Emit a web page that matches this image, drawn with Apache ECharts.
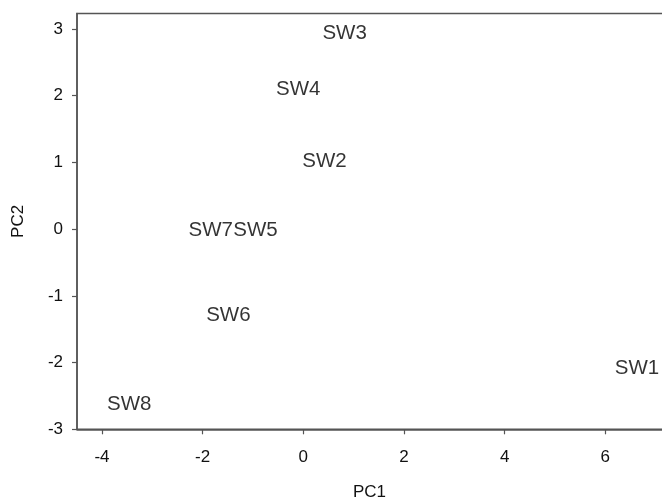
<!DOCTYPE html>
<html>
<head>
<meta charset="utf-8">
<script src="https://cdn.jsdelivr.net/npm/echarts@6/dist/echarts.min.js"></script>
<style>
  html, body { margin: 0; padding: 0; background: #fff; overflow: hidden; }
  #chart { width: 662px; height: 502px; }
</style>
</head>
<body>
<div id="chart"></div>
<script>
// Sample scores on the first two principal components
const sampleNames = ['SW1', 'SW2', 'SW3', 'SW4', 'SW5', 'SW6', 'SW7', 'SW8'];
const pc1Scores   = [6.64, 0.43, 0.83, -0.09, -0.94, -1.48, -1.83, -3.45];
const pc2Scores   = [-2.09, 1.00, 2.92, 2.09, -0.03, -1.30, -0.03, -2.64];

// Tick values shown on each axis
const pc1Ticks = [-4, -2, 0, 2, 4, 6];
const pc2Ticks = [-3, -2, -1, 0, 1, 2, 3];

const points = sampleNames.map((n, i) => ({ name: n, value: [pc1Scores[i], pc2Scores[i]] }));

const axisColor = '#555';
const textColor = '#111';
const fontFamily = '"Liberation Sans", Arial, Helvetica, sans-serif';

const chart = echarts.init(document.getElementById('chart'), null, { renderer: 'canvas' });
chart.setOption({
  animation: false,
  backgroundColor: '#fff',
  grid: {
    left: 77, right: -10, top: 13.5, bottom: 72.7,
    outerBoundsMode: 'none',
    show: true, borderColor: axisColor, borderWidth: 1.5, backgroundColor: 'transparent'
  },
  xAxis: {
    type: 'value',
    min: -4.497, max: 7.325,
    name: 'PC1', nameLocation: 'middle', nameGap: 55,
    nameTextStyle: { fontSize: 17, color: textColor, fontFamily, padding: [0, 0, 0, -10] },
    axisLine: { show: true, onZero: false, lineStyle: { color: axisColor, width: 1.5 } },
    axisTick: { show: true, length: 5, lineStyle: { color: axisColor, width: 1.2 }, customValues: pc1Ticks },
    axisLabel: { fontSize: 17, color: textColor, fontFamily, margin: 20, customValues: pc1Ticks },
    splitLine: { show: false }
  },
  yAxis: {
    type: 'value',
    min: -3, max: 3.23,
    name: 'PC2', nameLocation: 'middle', nameGap: 50, nameRotate: 90,
    nameTextStyle: { fontSize: 17, color: textColor, fontFamily },
    axisLine: { show: true, onZero: false, lineStyle: { color: axisColor, width: 1.5 } },
    axisTick: { show: true, length: 5, lineStyle: { color: axisColor, width: 1.2 }, customValues: pc2Ticks },
    axisLabel: { fontSize: 17, color: textColor, fontFamily, margin: 14, customValues: pc2Ticks },
    splitLine: { show: false }
  },
  series: [{
    type: 'scatter',
    data: points,
    symbolSize: 1,
    itemStyle: { color: 'transparent' },
    label: {
      show: true,
      position: [0, 0],
      align: 'center',
      verticalAlign: 'middle',
      formatter: p => p.name,
      fontSize: 20.5,
      color: '#000',
      fontFamily
    },
    labelLayout: { hideOverlap: false },
    emphasis: { disabled: true }
  }]
});
</script>
</body>
</html>
